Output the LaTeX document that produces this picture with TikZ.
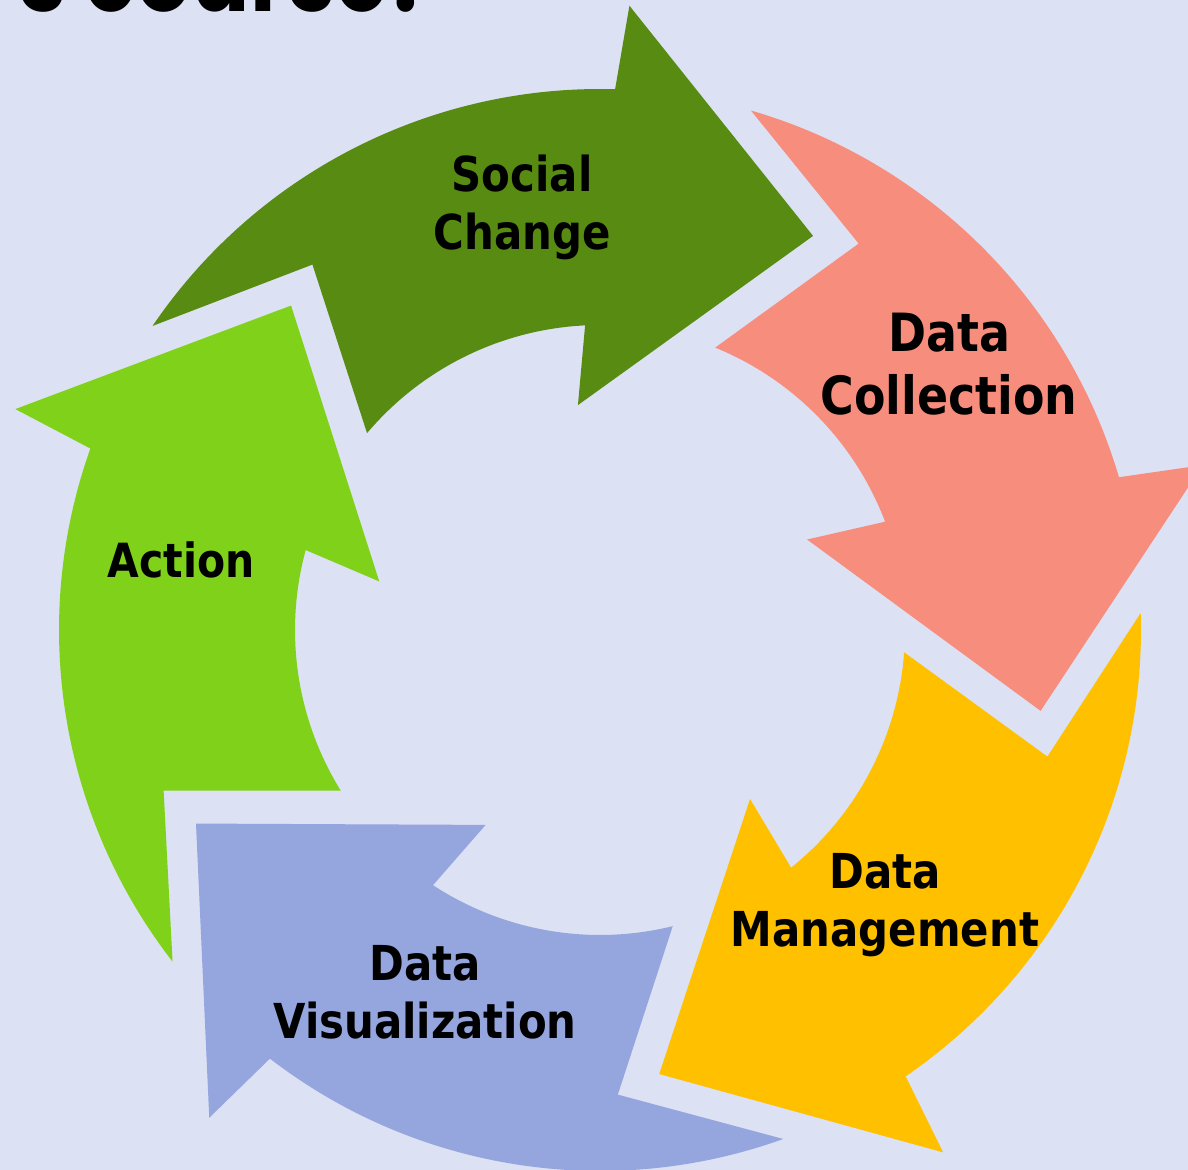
\documentclass[tikz,border=0pt]{standalone}
\usepackage{fontspec}
\newfontfamily\labelfont{DejaVu Sans}[FakeStretch=0.87]
\newfontfamily\titlefont{Poppins}[FakeStretch=0.82]
\definecolor{backblue}{RGB}{220,225,243}
\definecolor{darkgreen}{RGB}{88,139,18}
\definecolor{salmon}{RGB}{247,141,124}
\definecolor{amber}{RGB}{255,192,0}
\definecolor{softblue}{RGB}{149,165,222}
\definecolor{limegreen}{RGB}{128,209,25}
\begin{document}
\begin{tikzpicture}
    \tikzstyle{cyclelabel}=[font=\labelfont\bfseries\fontsize{13.7}{16.5}\selectfont, align=center, text=black]
    \useasboundingbox (0,0) rectangle (11.88,-11.70);
    \fill[backblue] (0,0) rectangle (11.88,-11.70);
    \clip (0,0) rectangle (11.88,-11.70);

    \node[font=\titlefont\bfseries\fontsize{30}{34}\selectfont, anchor=base east, inner sep=0pt] (title) at (4.36,-0.12) {s course?};

    \begin{scope}[shift={(6.00,-6.30)}]
    % Social Change
    \fill[darkgreen] (145.8:5.41) arc[start angle=145.8, end angle=88.4, radius=5.41] -- (87.3:6.25) -- (61.6:4.48)
                     -- (95.6:2.26) -- (92.8:3.05) arc[start angle=92.8, end angle=139.8, radius=3.05] -- (128.2:4.65) -- cycle;
    % Data Collection
    \fill[salmon, rotate=-72] (145.8:5.41) arc[start angle=145.8, end angle=88.4, radius=5.41] -- (87.3:6.25) -- (61.6:4.48)
                     -- (95.6:2.26) -- (92.8:3.05) arc[start angle=92.8, end angle=139.8, radius=3.05] -- (128.2:4.65) -- cycle;
    % Data Management
    \fill[amber, rotate=-144] (145.8:5.41) arc[start angle=145.8, end angle=88.4, radius=5.41] -- (87.3:6.25) -- (61.6:4.48)
                     -- (95.6:2.26) -- (92.8:3.05) arc[start angle=92.8, end angle=139.8, radius=3.05] -- (128.2:4.65) -- cycle;
    % Data Visualization
    \fill[softblue, rotate=-216] (145.8:5.41) arc[start angle=145.8, end angle=88.4, radius=5.41] -- (87.3:6.25) -- (61.6:4.48)
                     -- (95.6:2.26) -- (92.8:3.05) arc[start angle=92.8, end angle=139.8, radius=3.05] -- (128.2:4.65) -- cycle;
    % Action
    \fill[limegreen, rotate=-288] (145.8:5.41) arc[start angle=145.8, end angle=88.4, radius=5.41] -- (87.3:6.25) -- (61.6:4.48)
                     -- (95.6:2.26) -- (92.8:3.05) arc[start angle=92.8, end angle=139.8, radius=3.05] -- (128.2:4.65) -- cycle;
    \end{scope}

    \node[cyclelabel] (social) at (5.22,-2.07) {Social\\Change};
    \node[cyclelabel, font=\labelfont\bfseries\fontsize{15}{17.8}\selectfont] (collection) at (9.49,-3.64) {Data\\Collection};
    \node[cyclelabel] (management) at (8.85,-9.05) {Data\\Management};
    \node[cyclelabel] (visualization) at (4.25,-9.92) {Data\\Visualization};
    \node[cyclelabel, font=\labelfont\bfseries\fontsize{13.4}{16}\selectfont] (action) at (1.81,-5.60) {Action};

\end{tikzpicture}
\end{document}
